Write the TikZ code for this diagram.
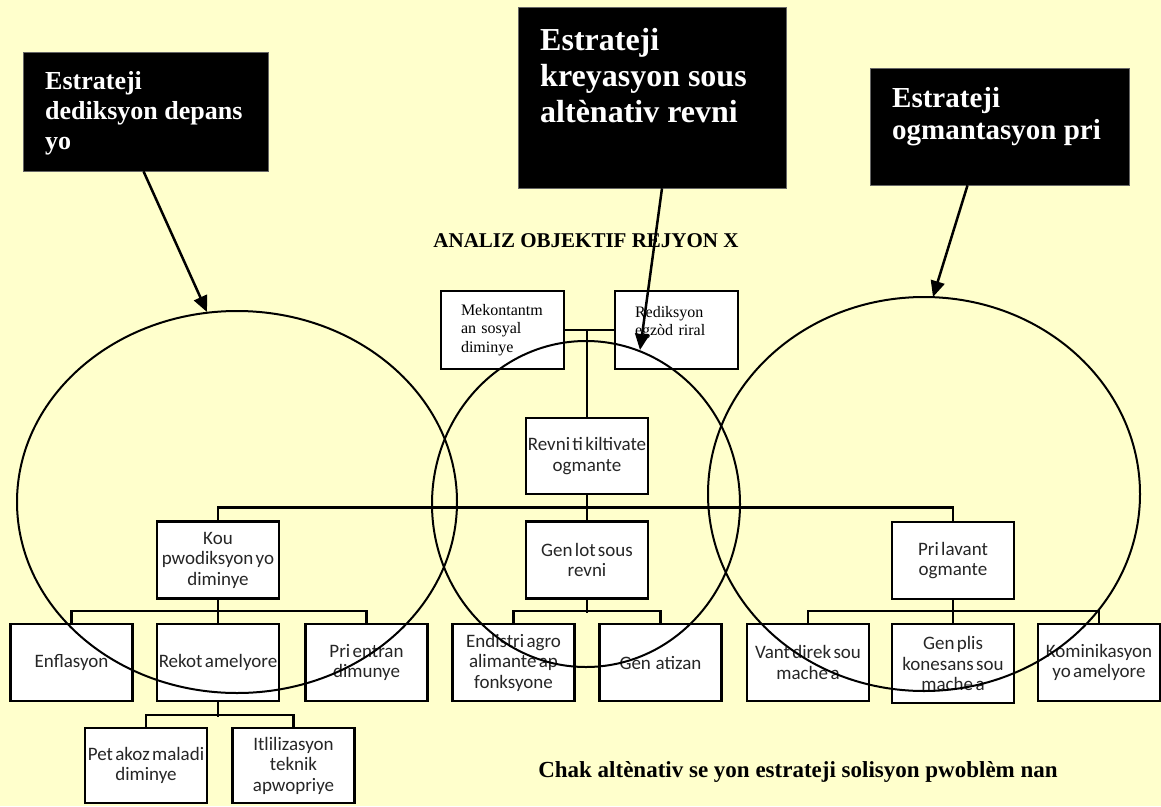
\documentclass[tikz,border=0pt]{standalone}
\usepackage{fontspec}
\setmainfont{Liberation Serif}
\newfontfamily\calfont[WordSpace=0.55]{Carlito}
\usetikzlibrary{arrows.meta,calc}
\definecolor{bgyellow}{HTML}{FFFFCC}
\begin{document}
\begin{tikzpicture}[x=1pt,y=-1pt,
  wbox/.style={draw, fill=white, line width=2.2pt, minimum width=122pt, minimum height=77pt, inner sep=0pt, align=center, font=\calfont\fontsize{19}{20.5}\selectfont, text=black!85},
  tbox/.style={draw, fill=white, line width=1.8pt, minimum width=123pt, minimum height=78pt, inner sep=0pt, text width=83pt, align=left, font=\fontsize{16}{18.5}\selectfont},
  bbox/.style={draw=black!60, fill=black, line width=0.6pt, inner sep=0pt},
  btext/.style={text=white, align=left, inner sep=0pt, anchor=north west},
  conn/.style={line width=2.2pt},
  ring/.style={line width=2pt},
  pointer/.style={line width=2.5pt, -{Triangle[length=16pt,width=14pt]}}
]
\fill[bgyellow] (0,0) rectangle (1161,806);
\useasboundingbox (0,0) rectangle (1161,806);

% black strategy boxes
\node[bbox, minimum width=245pt, minimum height=119pt] (b1) at (145.5,111.5) {};
\node[btext, font=\bfseries\fontsize{26}{30}\selectfont] (t1) at (45,71) {Estrateji\\dediksyon depans\\yo};
\node[bbox, minimum width=268pt, minimum height=181pt] (b2) at (652,97.5) {};
\node[btext, font=\bfseries\fontsize{32}{36}\selectfont] (t2) at (540,28) {Estrateji\\kreyasyon sous\\altènativ revni};
\node[bbox, minimum width=259pt, minimum height=117pt] (b3) at (999.5,126.5) {};
\node[btext, font=\bfseries\fontsize{29}{32}\selectfont] (t3) at (892,87) {Estrateji\\ogmantasyon pri};

% titles
\node[font=\bfseries\fontsize{21}{24}\selectfont, anchor=base, inner sep=0pt] (title) at (586,247) {ANALIZ OBJEKTIF REJYON X};
\node[font=\bfseries\fontsize{23}{26}\selectfont, anchor=base, inner sep=0pt] (note) at (798,777) {Chak altènativ se yon estrateji solisyon pwoblèm nan};

% tree boxes
\node[tbox] (m1) at (502.5,330) {Mekontantm\\an sosyal\\diminye};
\node[tbox] (m2) at (676.5,330) {Rediksyon\\egzòd riral\\\mbox{}};
\node[wbox, minimum height=76pt] (rv) at (587,456) {Revni ti kiltivate\\ogmante};

\node[wbox] (kou) at (218,560) {Kou\\pwodiksyon yo\\diminye};
\node[wbox] (gl) at (587,560) {Gen lot sous\\revni};
\node[wbox] (pl) at (953,560.5) {Pri lavant\\ogmante};

\node[wbox] (enf) at (71.5,662.5) {Enflasyon};
\node[wbox] (rek) at (218,662.5) {Rekot amelyore};
\node[wbox] (pe) at (366.5,662.5) {Pri entran\\dimunye};
\node[wbox] (ea) at (513.5,662.5) {Endistri agro\\alimante ap\\fonksyone};
\node[wbox] (ga) at (660.5,662.5) {Gen\ \ atizan};
\node[wbox] (vd) at (808,662.5) {Vant direk sou\\mache a};
\node[wbox, minimum height=79pt] (gp) at (953,663.5) {Gen plis\\konesans sou\\mache a};
\node[wbox] (ko) at (1099,662.5) {Kominikasyon\\yo amelyore};

\node[wbox, minimum height=75pt] (pa) at (146,765.5) {Pet akoz maladi\\diminye};
\node[wbox, minimum height=75pt] (it) at (293.5,765.5) {Itlilizasyon\\teknik\\apwopriye};

% connectors
\draw[conn] (m1.east) -- (m2.west);
\draw[conn] (m1.east -| rv.north) -- (rv.north);
\draw[conn] (rv.south) -- (gl.north);
\draw[conn] (kou.north) -- ++(0,-13) -| (pl.north);
\draw[conn] (kou.south) -- (rek.north);
\draw[conn] (enf.north) -- ++(0,-12) -| (pe.north);
\draw[conn] (gl.south) -- ++(0,13);
\draw[conn] (ea.north) -- ++(0,-12) -| (ga.north);
\draw[conn] (pl.south) -- (gp.north);
\draw[conn] (vd.north) -- ++(0,-12) -| (ko.north);
\draw[conn] (rek.south) -- ++(0,15);
\draw[conn] (pa.north) -- ++(0,-12) -| (it.north);

% ellipses
\draw[ring] (237,502) ellipse [x radius=220pt, y radius=191pt];
\draw[ring] (586,504) ellipse [x radius=154pt, y radius=163pt];
\draw[ring] (924,494) ellipse [x radius=216pt, y radius=197pt];

% arrows
\coordinate (p1) at (207,312);
\coordinate (p2) at (640,350);
\coordinate (p3) at (933,297);
\draw[pointer] ([xshift=-2pt]b1.south) -- (p1);
\draw[pointer] ([xshift=10pt]b2.south) -- (p2);
\draw[pointer] ([xshift=-32pt]b3.south) -- (p3);
\end{tikzpicture}
\end{document}
